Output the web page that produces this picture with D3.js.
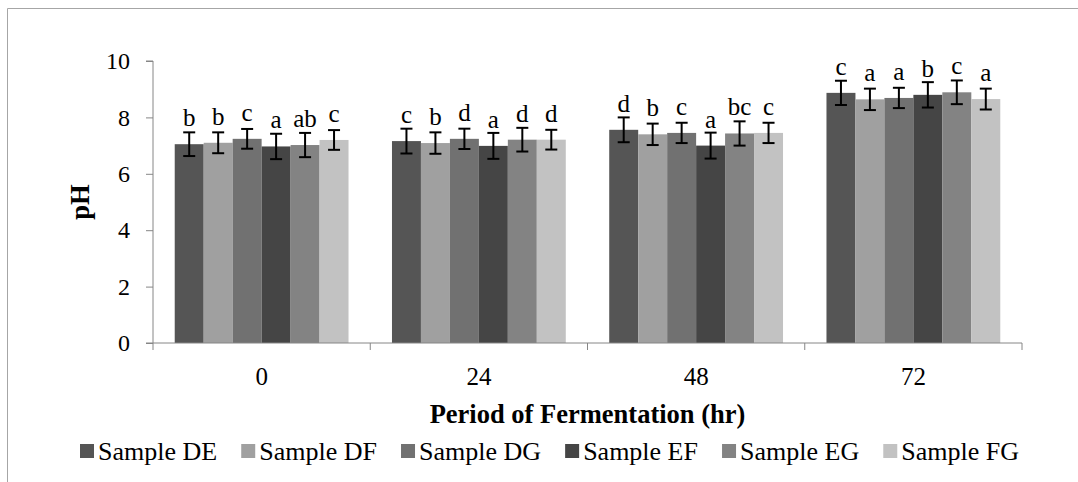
<!DOCTYPE html>
<html>
<head>
<meta charset="utf-8">
<script src="https://cdn.jsdelivr.net/npm/d3@7"></script>
<style>
  body { margin: 0; background: #fff; }
  svg { display: block; font-family: "Liberation Serif", "Times New Roman", serif; }
</style>
</head>
<body>
<svg width="1078" height="482"></svg>
<script>
// chart data
const periods = ["0", "24", "48", "72"];
const samples = ["Sample DE", "Sample DF", "Sample DG", "Sample EF", "Sample EG", "Sample FG"];
const sampleColors = ["#555555", "#a0a0a0", "#717171", "#454545", "#838383", "#c2c2c2"];
const yTicks = [0, 2, 4, 6, 8, 10];

// pH per period, one value per sample
const phMeans = [
    [7.05, 7.10, 7.24, 6.97, 7.02, 7.20],
    [7.16, 7.09, 7.24, 6.99, 7.21, 7.21],
    [7.56, 7.40, 7.45, 7.00, 7.43, 7.45],
    [8.87, 8.64, 8.69, 8.80, 8.89, 8.65]
];
const phErrors = [
    [0.42, 0.37, 0.35, 0.45, 0.43, 0.35],
    [0.44, 0.38, 0.36, 0.46, 0.42, 0.35],
    [0.44, 0.38, 0.36, 0.46, 0.43, 0.36],
    [0.43, 0.38, 0.36, 0.45, 0.42, 0.37]
];
const sigLetters = [
    ["b", "b", "c", "a", "ab", "c"],
    ["c", "b", "d", "a", "d", "d"],
    ["d", "b", "c", "a", "bc", "c"],
    ["c", "a", "a", "b", "c", "a"]
];

const svg = d3.select("svg");
const margin = { top: 61, right: 56, bottom: 139, left: 153 };
const width = +svg.attr("width");
const height = +svg.attr("height");
const axisColor = "#868686";

// outer frame (cropped at right and bottom)
svg.append("path")
    .attr("d", "M7.5,482 L7.5,8.5 L1078,8.5")
    .attr("fill", "none")
    .attr("stroke", "#a6a6a6")
    .attr("stroke-width", 1);

const x0 = d3.scaleBand()
    .domain(periods)
    .range([margin.left, width - margin.right])
    .paddingInner(0.2)
    .paddingOuter(0.1);

// bands without padding, for the category ticks
const xCat = d3.scaleBand()
    .domain(periods)
    .range([margin.left, width - margin.right]);

const x1 = d3.scaleBand()
    .domain(samples)
    .range([0, x0.bandwidth()]);

const y = d3.scaleLinear()
    .domain([0, 10])
    .range([height - margin.bottom, margin.top]);

const rows = [];
periods.forEach((p, i) => {
    samples.forEach((s, j) => {
        rows.push({ period: p, sample: s, color: sampleColors[j], value: phMeans[i][j], err: phErrors[i][j], letter: sigLetters[i][j] });
    });
});

// bars
svg.append("g")
    .selectAll("rect")
    .data(rows)
    .enter().append("rect")
    .attr("x", d => x0(d.period) + x1(d.sample))
    .attr("y", d => y(d.value))
    .attr("width", x1.bandwidth())
    .attr("height", d => y(0) - y(d.value))
    .attr("fill", d => d.color);

// error bars
const eb = svg.append("g")
    .attr("stroke", "#000")
    .attr("stroke-width", 2);
rows.forEach(d => {
    const cx = x0(d.period) + x1(d.sample) + x1.bandwidth() / 2;
    eb.append("line")
        .attr("x1", cx).attr("x2", cx)
        .attr("y1", y(d.value + d.err)).attr("y2", y(d.value - d.err));
    [d.value + d.err, d.value - d.err].forEach(v => {
        eb.append("line")
            .attr("x1", cx - 6).attr("x2", cx + 6)
            .attr("y1", y(v)).attr("y2", y(v));
    });
});

// significance letters
svg.append("g")
    .selectAll("text")
    .data(rows)
    .enter().append("text")
    .attr("x", d => x0(d.period) + x1(d.sample) + x1.bandwidth() / 2)
    .attr("y", d => y(d.value) - 18)
    .attr("text-anchor", "middle")
    .style("font-size", "25px")
    .text(d => d.letter);

// y axis
const yAxis = svg.append("g")
    .attr("transform", `translate(${margin.left},0)`)
    .call(d3.axisLeft(y).tickValues(yTicks).tickSize(7).tickPadding(16));
yAxis.selectAll("line, path").attr("stroke", axisColor);
yAxis.select(".domain").attr("d", `M-7,${y(10)}H0V${y(0)}H-7`);
yAxis.selectAll("text")
    .attr("fill", "#000")
    .style("font-size", "24px")
    .style("font-family", "Liberation Serif, serif");

// x axis with ticks between categories
const xg = svg.append("g")
    .attr("transform", `translate(0,${y(0)})`);
xg.append("line")
    .attr("x1", margin.left).attr("x2", width - margin.right)
    .attr("y1", 0).attr("y2", 0)
    .attr("stroke", axisColor);
const tickXs = periods.map(p => xCat(p)).concat([width - margin.right]);
xg.selectAll(".xtick")
    .data(tickXs)
    .enter().append("line")
    .attr("x1", d => d).attr("x2", d => d)
    .attr("y1", 0).attr("y2", 7)
    .attr("stroke", axisColor);
xg.selectAll(".xlabel")
    .data(periods)
    .enter().append("text")
    .attr("x", d => xCat(d) + xCat.bandwidth() / 2)
    .attr("y", 41.5)
    .attr("text-anchor", "middle")
    .style("font-size", "25px")
    .text(d => d);

// axis titles
svg.append("text")
    .attr("x", (margin.left + width - margin.right) / 2)
    .attr("y", 423)
    .attr("text-anchor", "middle")
    .style("font-size", "26.5px")
    .style("font-weight", "bold")
    .text("Period of Fermentation (hr)");

svg.append("text")
    .attr("transform", `translate(89,${(y(0) + y(10)) / 2}) rotate(-90)`)
    .attr("text-anchor", "middle")
    .style("font-size", "26.5px")
    .style("font-weight", "bold")
    .text("pH");

// legend
const legendLeft = 80, legendRight = 1019;
const legend = svg.append("g").attr("transform", "translate(0,460)");
const items = legend.selectAll("g")
    .data(samples)
    .enter().append("g");
items.append("rect")
    .attr("y", -16)
    .attr("width", 14)
    .attr("height", 14)
    .attr("fill", (d, i) => sampleColors[i]);
items.append("text")
    .attr("x", 18)
    .style("font-size", "26px")
    .text(d => d);
const itemW = [];
items.each(function () { itemW.push(this.getBBox().width); });
const gap = (legendRight - legendLeft - d3.sum(itemW)) / (itemW.length - 1);
let lx = legendLeft;
items.attr("transform", (d, i) => {
    const t = `translate(${lx},0)`;
    lx += itemW[i] + gap;
    return t;
});
</script>
</body>
</html>
